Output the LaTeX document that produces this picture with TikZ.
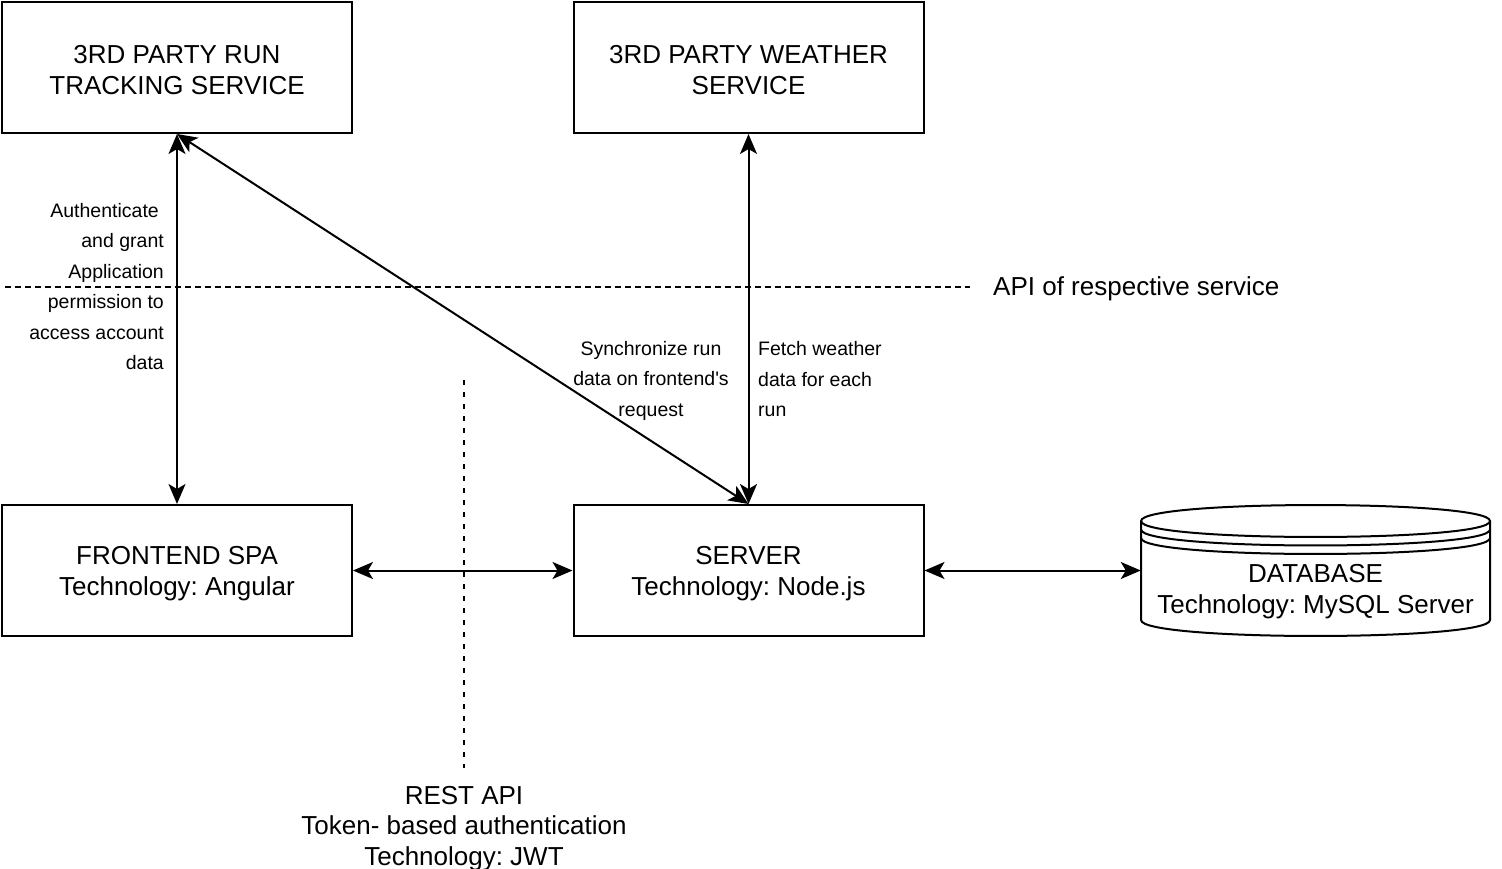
\documentclass[tikz,border=0pt]{standalone}
\usepackage{fontspec}
\setmainfont{Liberation Sans}[Ligatures=TeXOff]
\usetikzlibrary{arrows.meta}
\frenchspacing
\begin{document}
\begin{tikzpicture}[x=1pt,y=-1pt,
  boxstyle/.style={draw,line width=2pt,minimum width=350pt,minimum height=131pt,inner sep=0pt},
  boxtext/.style={inner sep=0pt,align=center,font=\fontsize{26}{31}\selectfont},
  conn/.style={line width=2pt,{Stealth[length=20pt,width=17pt,inset=5pt]}-{Stealth[length=20pt,width=17pt,inset=5pt]}},
  lbl/.style={font=\fontsize{19.5}{30.5}\selectfont,inner sep=0pt},
  biglbl/.style={font=\fontsize{26}{30.5}\selectfont,inner sep=0pt,align=center},
  dashline/.style={line width=1.5pt,dash pattern=on 6pt off 4pt}
]
\useasboundingbox (0,0) rectangle (1502,868);

\node[boxstyle] (run) at (177,67.5) {};
\node[boxtext] (runtxt) at (177,70.5) {3RD PARTY RUN\\TRACKING SERVICE};
\node[boxstyle] (weather) at (748.5,67.5) {};
\node[boxtext] (weathertxt) at (748.5,70.5) {3RD PARTY WEATHER\\SERVICE};
\node[boxstyle] (front) at (177,570.5) {};
\node[boxtext] (fronttxt) at (177,573.5) {FRONTEND SPA\\Technology: Angular};
\node[boxstyle] (server) at (748.5,570.5) {};
\node[boxtext] (servertxt) at (748.5,573.5) {SERVER\\Technology: Node.js};

% database cylinder
\node[minimum width=349pt,minimum height=131pt,inner sep=0pt] (db) at (1315.5,570.5) {};
\draw[line width=2pt,fill=white]
  (1141,521) .. controls (1141,499.7) and (1490,499.7) .. (1490,521)
  -- (1490,620) .. controls (1490,641.3) and (1141,641.3) .. (1141,620) -- cycle;
\draw[line width=2pt]
  (1141,521) .. controls (1141,542.3) and (1490,542.3) .. (1490,521)
  (1141,529.5) .. controls (1141,550.8) and (1490,550.8) .. (1490,529.5)
  (1141,538) .. controls (1141,559.3) and (1490,559.3) .. (1490,538);
\node[boxtext] (dbtext) at (1315.5,592) {DATABASE\\Technology: MySQL Server};

% connectors
\draw[conn] (run.south) -- (front.north);
\draw[conn] (run.south) -- (server.north);
\draw[conn] (weather.south) -- (server.north);
\draw[conn] (front.east) -- (server.west);
\draw[conn] (server.east) -- (db.west);

% dashed boundaries
\coordinate (hl) at (5,287);
\coordinate (hr) at (970,287);
\draw[dashline] (hl) -- (hr);
\node[biglbl,anchor=west] (apilbl) at (993,289) {API of respective service};

\coordinate (vt) at (464,380);
\coordinate (vb) at (464,768);
\draw[line width=1.5pt,dash pattern=on 5pt off 7pt] (vt) -- (vb);
\node[biglbl,anchor=north] (restlbl) at (464,786) {REST API\\Token- based authentication\\Technology: JWT};

% labels
\node[lbl,align=right,anchor=east] (authlbl) at (164,286.5) {Authenticate\hspace*{5pt}\\and grant\\Application\\permission to\\access account\\data};
\node[lbl,align=center] (synclbl) at (651,380.5) {Synchronize run\\data on frontend's\\request};
\node[lbl,align=left,anchor=west] (fetchlbl) at (758,379.5) {Fetch weather\\data for each\\run};
\end{tikzpicture}
\end{document}
